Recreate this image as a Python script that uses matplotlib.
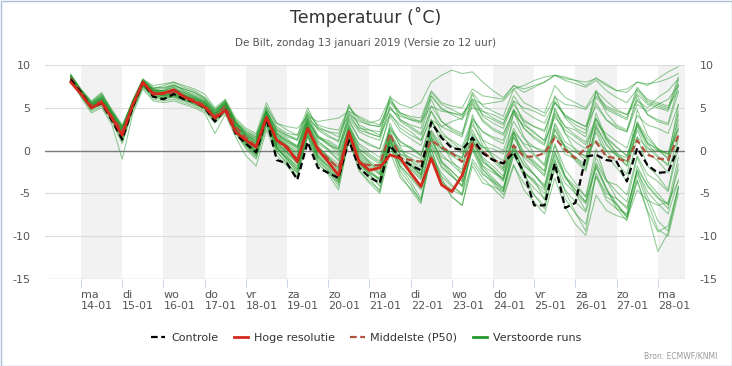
import matplotlib
matplotlib.use("Agg")
import matplotlib.pyplot as plt
import pandas as pd
from matplotlib.patches import Rectangle
from matplotlib.lines import Line2D

# ---------------- data ----------------
day_names = ["ma", "di", "wo", "do", "vr", "za", "zo", "ma", "di", "wo", "do", "vr", "za", "zo", "ma"]
day_dates = ["14-01", "15-01", "16-01", "17-01", "18-01", "19-01", "20-01", "21-01",
             "22-01", "23-01", "24-01", "25-01", "26-01", "27-01", "28-01"]
y_ticks = [-15, -10, -5, 0, 5, 10]

start_time = "2019-01-13 18:00"   # first forecast step, 6-hourly

hres = [8.0, 6.6, 5.0, 5.6, 3.8, 1.8, 5.3, 8.0, 6.6, 6.7, 7.1, 6.3, 5.7, 5.1, 3.8, 4.7, 2.2,
        1.2, 0.4, 3.9, 1.2, 0.4, -1.3, 2.6, 0.1, -1.3, -2.9, 2.2, -1.3, -2.3, -2.0, -0.5, -0.9,
        -2.6, -4.2, -0.9, -4.0, -4.8, -2.9, 0.6]

controle = [8.3, 6.8, 5.0, 5.5, 3.5, 1.3, 5.0, 8.0, 6.3, 6.0, 6.6, 6.0, 5.7, 5.0, 3.4, 4.8, 2.0,
            0.8, -0.2, 3.8, -1.1, -1.5, -3.4, 1.0, -2.0, -2.6, -3.2, 1.2, -2.0, -3.1, -3.8, 0.6, -0.9,
            -1.7, -2.3, 3.3, 1.5, 0.3, 0.1, 1.5, -0.3, -1.1, -1.5, -0.2, -2.6, -6.4, -6.4, -1.5, -6.7,
            -6.1, -0.7, -0.5, -1.1, -1.3, -3.6, 0.3, -1.7, -2.6, -2.5, 0.4]

p50 = [8.5, 6.8, 5.2, 5.8, 4.0, 2.3, 5.3, 7.8, 6.8, 6.6, 6.8, 6.3, 5.9, 5.3, 4.0, 5.2, 2.8,
       1.5, 0.5, 3.8, 1.3, 0.2, -1.0, 2.6, 0.3, -1.0, -2.0, 2.0, -1.5, -1.7, -1.7, 2.0, -0.9,
       -1.1, -1.3, 1.2, 0.4, -0.3, -1.3, 0.9, -0.1, -1.1, -1.5, 0.6, -0.7, -0.7, -0.3, 1.5, 0.1,
       -0.9, 0.3, 1.0, -0.7, -0.9, -1.3, 1.2, -0.5, -0.9, -1.1, 1.8]

m01 = [8.6, 6.9,5.3,6.2,4.2, 2.0,5.5,8.2,7.0, 6.8,7.2,6.5,6.0, 5.5,4.2,5.5,3.0, 1.8,1.0,4.5,1.8, 1.0,0.2,3.6,1.2, 0.1,-1.0,3.1,0.6, -0.4,-1.2,2.4,1.1, 0.2,-0.6,3.3,1.8, 1.2,0.4,3.8,2.2, 1.4,0.8,4.3,2.9, 2.2,1.1,3.9,2.4, 1.6,0.7,3.2,2.0, 1.1,0.3,4.1,3.0, 2.6,2.0,5.4]
m02 = [8.4, 6.5,4.8,5.4,3.6, 1.2,4.8,7.6,6.2, 6.0,6.3,5.9,5.4, 4.8,3.4,4.6,2.2, 0.6,-0.6,3.2,0.4, -1.2,-2.4,2.0,-0.8, -2.2,-3.6,1.6,-1.4, -2.8,-3.9,0.4,-1.8, -3.2,-4.6,-0.6,-2.6, -4.0,-5.2,-1.4,-3.2, -4.4,-5.6,-1.8,-3.8, -5.2,-6.4,-2.2,-4.6, -6.0,-7.2,-3.0,-5.0, -5.6,-6.6,-2.4,-4.8, -6.2,-7.4,-3.4]
m03 = [8.9, 7.2,5.8,6.8,4.6, 2.6,5.8,8.4,7.4, 7.3,7.8,7.0,6.4, 5.8,4.6,5.9,3.4, 2.2,1.6,5.2,2.8, 2.0,1.8,4.4,3.0, 2.6,2.4,5.0,3.8, 3.2,3.6,6.2,5.4, 5.0,5.6,8.0,8.8, 9.4,9.0,9.2,8.0, 7.0,6.2,7.6,6.8, 7.4,8.0,8.8,8.4, 8.2,7.6,8.5,7.8, 7.0,6.8,8.0,7.6, 8.4,9.2,9.8]
m04 = [8.3, 6.4,4.6,5.2,3.4, 0.8,4.6,7.4,6.0, 5.8,6.0,5.6,5.2, 4.6,3.2,4.4,2.0, 0.2,-1.0,2.8,0.0, -1.6,-2.6,1.8,-1.2, -2.4,-3.4,1.2,-1.6, -2.6,-3.2,1.0,-1.0, -1.8,-2.8,1.6,-1.4, -2.8,-4.2,0.6,-2.2, -3.6,-4.8,-0.4,-3.0, -4.4,-5.6,-1.2,-3.8, -5.0,-6.2,-2.0,-4.6, -6.4,-7.8,-3.6,-7.2, -11.8,-9.6,-4.4]
m05 = [8.7, 7.0,5.6,6.6,4.8, 3.0,5.6,8.0,7.2, 7.6,8.0,7.4,7.0, 6.2,4.8,5.8,3.6, 2.4,1.8,5.0,3.2, 2.8,2.6,4.0,3.4, 3.6,3.8,4.6,4.0, 3.4,3.0,5.6,4.2, 3.6,3.2,6.4,5.0, 4.2,3.6,6.8,5.2, 4.6,4.0,7.2,5.6, 5.0,4.4,7.6,6.2, 5.6,5.0,7.0,5.8, 4.8,4.2,6.6,5.4, 5.0,4.6,7.8]
m06 = [8.5, 6.7,5.0,5.6,3.8, 1.6,5.0,7.7,6.5, 6.3,6.4,6.0,5.6, 5.0,3.6,4.8,2.4, 0.8,-0.2,3.6,0.6, -0.6,-2.0,2.6,-0.6, -2.0,-3.8,1.8,-1.8, -3.2,-4.8,0.8,-2.8, -4.6,-6.2,-0.4,-3.6, -5.4,-6.4,-1.8,-3.8, -4.2,-4.8,-0.6,-2.6, -3.4,-5.8,-1.0,-4.8, -7.2,-9.4,-2.6,-5.4, -6.2,-7.6,-2.2,-4.0, -5.4,-6.8,-1.6]
m07 = [8.6, 6.8,5.1,5.9,4.0, 2.4,5.4,7.9,6.9, 6.7,6.9,6.4,5.9, 5.3,4.0,5.2,2.7, 1.4,0.6,4.2,1.4, 0.4,-0.8,3.0,0.2, -1.0,-2.2,2.4,-0.6, -1.6,-2.0,1.8,-0.4, -1.2,-2.6,1.2,-0.8, -1.4,-2.2,2.0,0.4, -0.4,-1.2,2.6,0.6, -0.6,-1.8,3.2,1.0, 0.2,-0.8,3.6,1.2, -0.2,-1.4,2.8,0.4, -0.8,-1.6,3.0]
m08 = [8.4, 6.6,5.2,6.0,4.4, 2.8,5.2,7.6,6.6, 6.5,7.2,6.8,6.2, 5.6,4.4,5.6,3.2, 2.0,1.2,4.8,2.2, 1.4,0.4,4.2,1.8, 0.8,-0.4,3.6,1.4, 0.6,0.2,4.4,2.6, 1.8,1.2,5.2,3.4, 2.6,2.0,5.8,4.2, 3.6,3.0,6.4,4.6, 3.8,3.2,5.8,4.0, 3.0,2.4,6.2,4.8, 4.2,3.6,7.0,5.6, 5.2,4.8,8.2]
m09 = [8.2, 6.4,4.8,5.6,3.8, 1.4,4.8,7.5,6.4, 6.2,6.4,6.2,5.8, 5.2,3.8,5.0,2.6, 1.0,-0.4,3.4,0.2, -0.8,-1.8,2.8,-0.4, -1.6,-3.0,2.2,-1.2, -2.4,-3.6,1.4,-2.0, -3.6,-5.6,0.2,-3.2, -5.4,-6.4,-1.0,-2.8, -3.6,-4.6,0.4,-1.6, -2.8,-4.0,0.8,-2.2, -3.8,-5.4,0.2,-3.4, -4.8,-6.0,-0.8,-3.6, -5.0,-6.4,-2.2]
m10 = [8.7, 7.0,5.4,6.0,4.2, 2.2,5.6,8.1,7.1, 6.9,7.0,6.5,6.1, 5.6,4.2,5.4,2.9, 1.6,0.8,4.4,1.6, 0.6,-0.6,3.2,0.4, -0.6,-1.6,2.8,0.2, -0.8,-1.6,2.6,0.6, 0.4,-0.6,3.6,1.6, 0.6,-0.4,2.4,0.0, -1.2,-2.4,1.6,-0.8, -1.8,-3.0,1.8,-0.4, -1.0,-2.2,3.0,0.6, -0.6,-1.8,2.4,-0.2, -1.2,-2.6,1.8]
m11 = [8.8, 7.1,5.6,6.4,4.4, 2.4,5.7,8.3,7.2, 7.0,7.6,7.2,6.8, 6.0,4.6,5.8,3.4, 2.0,1.4,4.8,2.4, 1.6,1.2,4.6,2.8, 2.2,1.6,5.2,3.6, 3.0,2.8,6.0,4.4, 3.8,3.4,6.8,5.4, 4.8,4.2,6.0,4.6, 3.8,3.2,5.4,3.6, 2.8,2.2,5.6,4.0, 3.4,2.8,6.8,5.0, 4.4,3.8,7.4,5.8, 5.4,5.0,8.6]
m12 = [8.4, 6.7,5.0,5.7,3.9, 1.8,5.2,7.8,6.7, 6.4,6.7,6.2,5.8, 5.2,3.8,5.0,2.4, 1.2,0.0,3.8,0.8, -0.2,-1.4,2.8,0.0, -1.2,-2.6,2.2,-0.8, -1.8,-2.6,1.6,-0.4, -0.8,-1.8,2.2,0.2, -0.6,-1.4,1.4,-1.2, -2.4,-3.6,0.6,-2.6, -5.2,-6.8,-1.8,-5.6, -7.4,-8.6,-3.0,-5.8, -6.8,-7.4,-1.8,-4.2, -5.6,-6.2,-0.8]
m13 = [8.6, 6.9,5.4,6.1,4.3, 2.6,5.6,8.0,7.0, 7.0,7.4,6.6,6.2, 5.7,4.4,5.4,3.2, 1.8,1.2,4.0,2.0, 1.2,0.6,3.8,1.6, 0.6,0.2,3.4,1.4, 0.8,0.2,4.0,2.2, 1.4,0.6,4.6,2.8, 2.2,1.6,5.4,3.4, 2.4,1.8,4.8,2.6, 1.4,0.6,4.4,2.8, 2.4,1.6,5.6,3.6, 2.8,2.2,6.0,4.2, 3.4,3.0,6.8]
m14 = [8.3, 6.5,4.9,5.5,3.7, 1.0,4.9,7.6,6.3, 6.1,6.2,5.8,5.4, 4.9,3.5,4.7,2.1, 0.4,-0.8,3.0,-0.2, -1.4,-3.0,1.8,-1.4, -2.8,-4.6,1.2,-2.4, -3.8,-5.0,-0.2,-3.2, -4.4,-5.8,-0.8,-3.0, -4.2,-5.0,0.4,-1.8, -2.6,-3.2,1.6,-0.6, -1.4,-2.4,2.4,0.2, -0.8,-1.6,2.8,0.8, -0.6,-1.2,3.4,1.4, 0.2,-0.4,4.6]
m15 = [8.5, 6.8,5.1,5.8,4.0, 2.0,5.3,7.9,6.8, 6.6,6.6,6.2,5.8, 5.4,4.0,5.3,2.6, 1.0,0.2,4.6,1.0, -0.2,-1.2,3.4,0.6, -0.8,-2.4,3.0,0.0, -1.4,-2.8,3.2,0.4, -1.6,-3.0,3.6,0.8, -1.2,-2.6,4.2,1.2, -0.8,-2.2,4.6,1.6, -0.4,-1.6,5.0,2.0, 0.0,-1.2,4.4,1.4, -0.4,-1.8,4.8,1.8, 0.2,-1.0,5.4]
m16 = [8.6, 6.8,5.2,5.9,4.0, 2.2,5.4,8.0,6.9, 6.7,6.8,6.3,5.8, 5.3,3.9,5.1,2.6, 1.2,0.3,4.0,1.0, 0.0,-1.0,3.0,0.0, -0.8,-2.0,2.6,-0.4, -1.4,-2.4,2.0,-0.6, -1.6,-2.8,1.6,-1.2, -2.4,-3.6,1.0,-1.8, -3.2,-4.4,0.2,-2.6, -3.6,-4.6,-0.2,-3.0, -4.2,-5.4,-0.8,-3.4, -5.6,-6.8,-2.4,-5.4, -8.2,-9.4,-4.2]
m17 = [8.9, 7.1,5.7,6.6,4.6, 2.8,5.9,8.3,7.6, 7.8,8.0,7.6,7.2, 6.6,5.0,6.0,3.8, 2.6,2.0,5.6,3.2, 2.4,1.8,5.0,2.6, 1.8,1.0,5.4,2.8, 2.0,1.6,6.4,3.6, 2.8,2.0,6.0,3.4, 2.4,1.8,6.6,4.0, 3.2,2.6,5.8,3.2, 2.0,1.2,6.4,3.8, 2.6,2.0,7.0,4.4, 3.0,2.4,6.4,4.2, 3.6,3.2,7.6]
m18 = [8.5, 6.6,5.0,5.6,3.8, 1.8,5.0,7.7,6.6, 6.4,6.5,6.0,5.6, 5.0,3.6,4.9,2.5, 0.8,-0.4,3.6,0.4, -0.8,-2.2,2.4,-0.6, -1.8,-3.2,2.0,-1.0, -2.2,-3.4,1.2,-1.4, -2.6,-4.0,0.6,-2.0, -3.0,-4.2,0.2,-2.2, -3.4,-4.4,0.0,-2.4, -3.8,-5.0,-0.6,-3.2, -4.6,-6.0,-1.4,-3.6, -4.0,-5.2,-0.6,-2.8, -3.6,-4.8,0.4]
m19 = [8.7, 6.9,5.3,6.0,4.1, 2.2,5.5,8.1,7.0, 6.8,7.0,6.4,6.0, 5.4,4.1,5.2,2.8, 1.4,0.6,4.2,1.4, 0.6,-0.2,3.8,1.4, 1.0,0.2,4.4,2.4, 2.0,1.6,5.2,3.4, 2.6,1.8,4.6,2.2, 1.0,0.0,3.4,0.6, -0.8,-2.0,2.2,-1.2, -2.8,-4.4,0.6,-3.0, -5.0,-7.0,-1.6,-4.4, -6.8,-8.2,-2.8,-6.0, -9.2,-10.0,-5.0]
m20 = [8.4, 6.7,5.1,5.8,4.1, 2.5,5.2,7.7,6.7, 6.5,6.9,6.4,6.0, 5.5,4.1,5.3,3.0, 1.6,0.8,4.0,1.8, 0.8,0.0,3.2,1.0, 0.2,-0.6,2.6,0.8, 0.0,-0.8,2.8,1.0, 0.4,-0.4,2.0,0.2, -0.4,-1.0,3.0,1.2, 0.6,0.0,3.4,1.4, 0.4,-0.4,4.2,2.0, 1.0,0.2,3.8,1.6, 0.4,-0.6,3.2,1.0, 0.0,-0.8,3.6]
m21 = [8.6, 6.9,5.4,6.3,4.4, 2.6,5.6,8.2,7.2, 7.2,7.6,7.0,6.6, 6.0,4.6,5.6,3.4, 2.2,1.6,4.6,2.6, 1.8,1.4,4.2,2.4, 1.6,1.2,4.6,3.0, 2.4,2.2,5.8,4.4, 4.0,3.8,7.0,5.6, 5.2,5.0,7.2,6.4, 6.2,6.0,7.6,7.2, 7.6,8.0,8.8,8.2, 7.8,7.4,8.2,7.0, 6.2,5.6,7.2,6.0, 5.6,5.2,7.0]
m22 = [8.5, 6.8,5.2,5.9,4.0, 2.2,5.4,7.9,6.8, 6.6,6.7,6.2,5.8, 5.2,3.8,5.0,2.4, 1.0,-0.2,3.8,0.4, -1.0,-2.6,2.4,-1.0, -2.4,-4.2,1.6,-2.2, -3.6,-4.6,0.6,-2.4, -4.0,-6.0,0.2,-3.6, -4.6,-5.2,1.2,-1.4, -2.2,-3.4,2.0,-0.2, -1.6,-2.8,2.6,0.4, -1.2,-2.4,2.2,-0.6, -2.0,-3.6,1.6,-1.8, -3.0,-4.6,1.4]
m23 = [8.2, 6.2,4.4,5.0,3.0, -1.0,4.2,7.2,5.8, 5.6,5.8,5.4,5.0, 4.4,2.0,4.2,1.6, -0.6,-1.8,2.4,-0.6, -1.8,-3.2,1.6,-1.6, -2.6,-3.8,1.4,-1.6, -2.8,-4.2,1.0,-1.8, -3.0,-4.4,1.2,-1.4, -2.4,-3.6,1.8,-0.8, -1.8,-3.0,2.2,-0.4, -1.2,-2.4,3.0,0.4, -0.8,-2.0,2.6,0.0, -1.4,-2.8,3.2,0.8, -0.6,-1.8,4.2]
m24 = [8.7, 7.0,5.5,6.4,4.6, 2.8,5.7,8.2,7.3, 7.4,7.6,7.2,6.8, 6.2,4.8,5.6,3.4, 1.8,1.0,4.4,2.0, 1.2,0.4,3.6,1.6, 0.8,0.0,3.8,2.2, 1.6,1.2,5.0,3.6, 3.0,2.6,6.4,4.8, 4.4,4.0,5.6,3.6, 2.6,2.0,4.6,2.6, 1.6,0.8,4.8,2.8, 1.8,1.0,3.8,1.4, 0.4,-0.6,3.0,0.8, 0.2,-0.4,2.6]
m25 = [8.6, 6.9,5.4,6.2,4.4, 2.6,5.6,8.1,7.0, 7.0,7.4,6.8,6.4, 5.8,4.4,5.6,3.2, 2.0,1.4,4.4,2.4, 1.8,1.2,3.8,2.6, 2.2,2.0,4.2,3.4, 3.0,2.8,4.8,4.0, 3.6,3.4,5.2,4.6, 4.4,4.2,6.0,5.4, 5.6,5.8,7.2,7.6, 8.2,8.6,8.8,8.6, 8.2,8.0,8.4,7.6, 7.0,7.2,8.0,7.8, 8.0,8.4,9.0]
m26 = [8.4, 6.6,5.0,5.7,3.9, 1.6,5.0,7.7,6.6, 6.4,6.6,6.1,5.7, 5.1,3.7,4.9,2.4, 1.0,0.0,3.6,0.6, -0.4,-1.6,2.6,-0.2, -1.4,-2.8,2.0,-1.0, -2.0,-2.8,1.4,-1.2, -2.2,-3.4,0.8,-1.8, -3.0,-4.0,0.0,-2.6, -3.8,-5.2,-1.6,-4.6, -6.0,-7.4,-3.2,-6.6, -8.6,-9.9,-5.2,-7.0, -7.6,-8.0,-4.6,-5.8, -6.4,-6.0,-3.6]
m27 = [8.7, 7.0,5.5,6.2,4.3, 2.4,5.6,8.1,7.1, 6.9,7.2,6.7,6.3, 5.7,4.3,5.4,3.0, 1.8,1.0,4.6,2.0, 1.0,0.4,3.4,1.6, 1.2,0.4,4.0,2.6, 2.4,1.8,4.2,3.0, 2.2,1.2,3.6,2.8, 3.4,3.8,5.0,4.6, 4.2,3.6,5.8,5.0, 4.6,4.0,6.2,5.4, 5.2,4.8,6.4,5.2, 4.6,4.2,5.8,5.0, 6.2,7.0,8.4]
m28 = [8.3, 6.5,4.9,5.6,3.8, 1.6,5.0,7.6,6.4, 6.2,6.3,5.9,5.5, 4.9,3.5,4.7,2.3, 0.6,-0.6,3.4,0.2, -1.0,-2.2,2.2,-0.8, -1.8,-3.4,1.8,-1.4, -2.6,-3.4,1.6,-1.2, -2.0,-3.2,2.4,0.6, -0.4,-0.8,3.6,2.2, 1.6,1.2,4.8,3.4, 2.8,2.4,5.6,4.2, 3.4,2.8,5.2,3.6, 2.6,2.2,5.4,4.6, 5.4,6.0,7.6]
m29 = [8.5, 6.7,5.1,5.8,3.9, 1.9,5.2,7.8,6.7, 6.5,6.6,6.1,5.7, 5.1,3.7,4.9,2.5, 1.0,0.0,3.8,0.8, -0.2,-1.4,2.8,0.2, -0.8,-2.0,2.4,-0.2, -1.2,-2.0,2.2,0.0, -1.0,-2.2,1.8,-0.4, -1.6,-2.8,1.2,-1.0, -2.2,-3.4,0.8,-1.8, -2.8,-4.2,-0.2,-3.0, -4.6,-6.0,-1.8,-4.4, -6.2,-7.8,-3.4,-7.0, -9.5,-8.8,-4.2]
m30 = [8.6, 6.8,5.2,6.0,4.1, 2.3,5.4,8.0,6.9, 6.7,7.0,6.5,6.1, 5.5,4.2,5.3,2.8, 1.5,0.7,4.1,1.6, 0.6,-0.4,3.2,0.8, 0.0,-1.2,2.4,0.2, -0.6,-1.4,1.8,0.0, -0.4,-1.0,1.4,0.2, -0.2,-0.8,1.6,0.4, 0.2,-0.4,2.2,0.8, 0.4,0.0,1.8,0.6, -0.2,-0.6,1.2,0.0, -0.4,-0.8,1.6,0.2, 0.0,-0.4,2.4]

members = [m01, m02, m03, m04, m05, m06, m07, m08, m09, m10, m11, m12, m13, m14, m15,
           m16, m17, m18, m19, m20, m21, m22, m23, m24, m25, m26, m27, m28, m29, m30]

# ---------------- styling ----------------
GREEN = "#23992b"
RED = "#d42a1e"
BROWN = "#b2503e"
plt.rcParams["font.family"] = ["DejaVu Sans"]

W, H = 732, 366
fig = plt.figure(figsize=(W / 100, H / 100), dpi=100)
fig.patch.set_facecolor("white")
ax = fig.add_axes([45 / W, 1 - 279 / H, 640 / W, 214 / H])

times = pd.date_range(start_time, periods=60, freq="6h")

x_left = pd.Timestamp("2019-01-13 03:00")
x_right = pd.Timestamp("2019-01-28 15:50")
ax.set_xlim(x_left, x_right)
ax.set_ylim(-15, 10)

# alternating day bands
day_starts = pd.date_range("2019-01-14", periods=15, freq="D")
for k, d in enumerate(day_starts):
    if k % 2 == 0:
        ax.axvspan(d, d + pd.Timedelta(days=1), color="#f2f2f2", lw=0, zorder=0)

# horizontal grid
for yv in y_ticks:
    if yv == 0:
        ax.axhline(yv, color="#7a7a7a", lw=1.0, zorder=0.6)
    elif yv == -15:
        ax.axhline(yv, color="#ccd6eb", lw=1.0, zorder=0.6)
    else:
        ax.axhline(yv, color="#dcdcdc", lw=0.8, zorder=0.5)

# ensemble members
for m in members:
    ax.plot(times[:len(m)], m, color=GREEN, lw=0.75, alpha=0.5, zorder=1,
            solid_joinstyle="round")

ax.plot(times[:len(p50)], p50, color=BROWN, lw=1.6, ls=(0, (3, 1.6)), zorder=3)
ax.plot(times[:len(controle)], controle, color="black", lw=1.6, ls=(0, (3, 1.6)), zorder=4)
ax.plot(times[:len(hres)], hres, color=RED, lw=2.0, zorder=5, solid_joinstyle="round")

# axes cosmetics
for s in ax.spines.values():
    s.set_visible(False)
ax.set_facecolor("white")
ax.set_yticks(y_ticks)
ax.set_yticklabels([str(v) for v in y_ticks])
ax.tick_params(axis="y", left=False, right=False, labelleft=True, labelright=True,
               labelsize=8, labelcolor="#555555", pad=7)
ax.set_xticks(day_starts)
ax.set_xticklabels([f"{a}\n{b}" for a, b in zip(day_names, day_dates)],
                   ha="left", linespacing=1.15)
ax.tick_params(axis="x", length=6, width=0.8, color="#ccd6eb", labelsize=8,
               labelcolor="#555555", pad=2)

# titles
fig.text(0.5, 1 - 17 / H, "Temperatuur (˚C)", ha="center", va="center",
         fontsize=12.5, color="#333333")
fig.text(0.5, 1 - 43 / H, "De Bilt, zondag 13 januari 2019 (Versie zo 12 uur)",
         ha="center", va="center", fontsize=7.5, color="#555555")

# legend
handles = [
    Line2D([], [], color="black", lw=1.6, ls=(0, (3, 1.6))),
    Line2D([], [], color=RED, lw=2.0),
    Line2D([], [], color=BROWN, lw=1.6, ls=(0, (3, 1.6))),
    Line2D([], [], color=GREEN, lw=2.0),
]
labels = ["Controle", "Hoge resolutie", "Middelste (P50)", "Verstoorde runs"]
fig.legend(handles, labels, loc="center", bbox_to_anchor=(0.5, 1 - 338 / H), ncol=4,
           frameon=False, fontsize=8, handlelength=1.3, handletextpad=0.5,
           columnspacing=1.4, labelcolor="#333333")

fig.text(717 / W, 1 - 356 / H, "Bron: ECMWF/KNMI", ha="right", va="center",
         fontsize=5.5, color="#999999")

fig.add_artist(Rectangle((0.5 / W, 0.5 / H), (W - 1) / W, (H - 1) / H,
                         transform=fig.transFigure, fill=False,
                         edgecolor="#a9c0d8", lw=1.0))

fig.savefig("out.png", dpi=100)
